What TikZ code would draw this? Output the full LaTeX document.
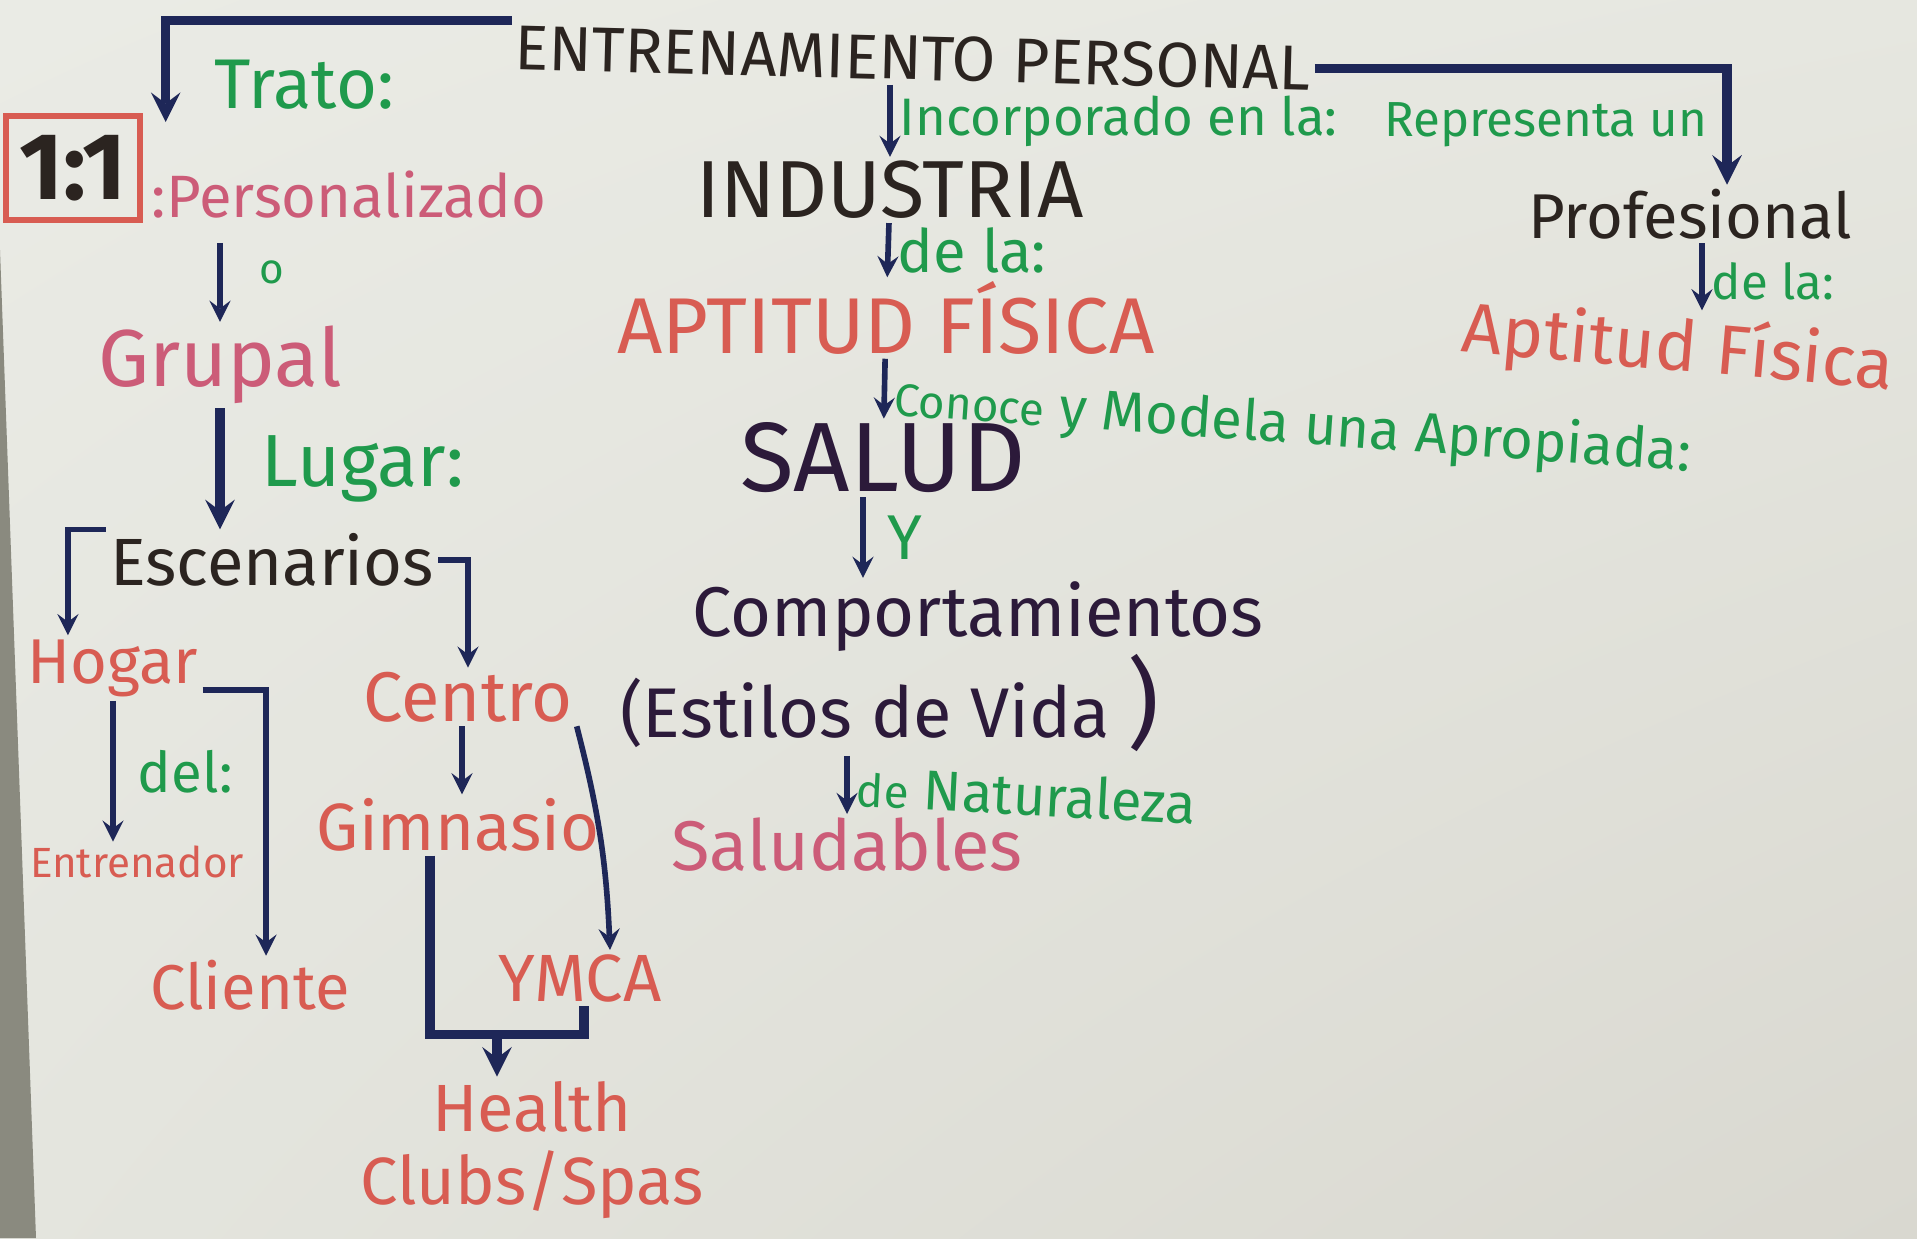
\documentclass[tikz,border=0pt]{standalone}
\usepackage{fontspec}
\setmainfont{Fira Sans}
\usepackage{xcolor}
\usepackage{tikz}
\usetikzlibrary{arrows, positioning, shadings}

\definecolor{boardtl}{HTML}{EAEBE5}
\definecolor{boardtr}{HTML}{E6E7E0}
\definecolor{boardbl}{HTML}{E4E5DE}
\definecolor{boardbr}{HTML}{D9D8D0}
\definecolor{boardedge}{HTML}{8A8A7F}
\definecolor{inkblack}{HTML}{2B2420}
\definecolor{inkred}{HTML}{D85C52}
\definecolor{inkpink}{HTML}{CC5C78}
\definecolor{inkgreen}{HTML}{1F9A4C}
\definecolor{inknavy}{HTML}{1E2758}
\definecolor{inkpurple}{HTML}{2C1A3A}

\newcommand{\pensize}[1]{\fontsize{#1pt}{#1pt}\selectfont}

\begin{document}
\begin{tikzpicture}[x=0.01cm, y=-0.01cm,
            blackink/.style={text=inkblack, inner sep=1pt},
            redink/.style={text=inkred, inner sep=1pt},
            pinkink/.style={text=inkpink, inner sep=1pt},
            purpleink/.style={text=inkpurple, inner sep=1pt},
            greenink/.style={text=inkgreen, inner sep=2pt},
            ratiobox/.style={draw=inkred, line width=1.5pt, minimum width=1.34cm, minimum height=1.04cm, text=inkblack, font=\bfseries\pensize{27}},
            arrow/.style={draw=inknavy, line width=1.6pt, ->, >=stealth},
            bigarrow/.style={arrow, line width=2.6pt},
            bigline/.style={draw=inknavy, line width=2.6pt}]

            % Board
            \shade[upper left=boardtl, upper right=boardtr, lower left=boardbl, lower right=boardbr] (0,0) rectangle (1917,1238);
            \fill[boardedge] (0,250) -- (36,1238) -- (0,1238) -- cycle;
            \useasboundingbox (0,0) rectangle (1917,1238);

            % Nodes
            \node (title) [blackink, font=\pensize{18}, rotate=-1.5] at (913,58) {ENTRENAMIENTO PERSONAL};
            \node (oneone) [ratiobox] at (73,168) {1:1};
            \node (pers) [pinkink, font=\pensize{17}, right=0.05cm of oneone, yshift=-0.27cm] {:Personalizado};
            \node (grupal) [pinkink, font=\pensize{23}] at (220,365) {Grupal};
            \node (escen) [blackink, font=\pensize{19}] at (272,560) {Escenarios};
            \node (hogar) [redink, font=\pensize{18}] at (113,668) {Hogar};
            \node (centro) [redink, font=\pensize{20}] at (468,697) {Centro};
            \node (entren) [redink, font=\pensize{12}] at (137,862) {Entrenador};
            \node (cliente) [redink, font=\pensize{18}] at (250,985) {Cliente};
            \node (gimn) [redink, font=\pensize{19}] at (458,825) {Gimnasio};
            \node (ymca) [redink, font=\pensize{19}] at (580,978) {YMCA};
            \node (health) [redink, font=\fontsize{19pt}{21pt}\selectfont, align=center] at (532,1150) {Health\\Clubs/Spas};
            \node (ind) [blackink, font=\pensize{23}] at (890,190) {INDUSTRIA};
            \node (aptfis) [redink, font=\pensize{22.5}] at (886,318) {APTITUD FÍSICA};
            \node (salud) [purpleink, font=\pensize{28}] at (883,458) {SALUD};
            \node (comport) [purpleink, font=\pensize{20}] at (978,617) {Comportamientos};
            \node (estilos) [purpleink, font=\pensize{20}] at (890,703) {(Estilos de Vida {\pensize{28})}};
            \node (saludables) [pinkink, font=\pensize{20}] at (847,845) {Saludables};
            \node (prof) [blackink, font=\pensize{18}] at (1690,214) {Profesional};
            \node (aptfis2) [redink, font=\pensize{20}, rotate=-5] at (1678,350) {Aptitud Física};
            \coordinate (profdrop) at ([xshift=0.12cm]prof.south);
            \coordinate (saluddrop) at ([xshift=-0.2cm]salud.south);
            \coordinate (join) at ([xshift=-0.35cm, yshift=0.42cm]health.north);

            % Arrows
            \draw [bigarrow] (title.north west) -| node[pos=0.3, below=0.28cm, greenink, font=\pensize{20}] (trato) {Trato:} ([xshift=0.18cm, yshift=0.45cm]pers.north west);
            \draw [bigarrow] (title.east) -| node[pos=0.28, below=0.22cm, greenink, font=\pensize{14}] (repr) {Representa un} ([xshift=0.37cm]prof.north);
            \draw [arrow] (ind.north |- title.south) -- node[right, greenink, font=\pensize{15}] (incorp) {Incorporado en la:} (ind.north);
            \draw [arrow] (ind) -- node[right, greenink, font=\pensize{17}] (dela) {de la:} (aptfis);
            \draw [arrow] (aptfis) -- node[right, yshift=-0.1cm, greenink, font=\pensize{16}, rotate=-4] (conoce) {{\pensize{13}Conoce} y Modela una Apropiada:} (salud);
            \draw [arrow] (saluddrop) -- node[right=0.15cm, greenink, font=\pensize{18}] (ylbl) {Y} (saluddrop |- comport.north);
            \draw [arrow] (saludables.north |- estilos.south) -- node[right, greenink, font=\pensize{16}, rotate=-3] (natur) {{\pensize{13}de} Naturaleza} (saludables.north);
            \draw [arrow] (profdrop) -- node[right, yshift=-0.05cm, greenink, font=\pensize{14}] (dela2) {de la:} (profdrop |- aptfis2.north);
            \draw [arrow, shorten <=0.2cm] (grupal.north |- pers.south) -- node[right=0.3cm, greenink, font=\pensize{12}] (olbl) {o} (grupal.north);
            \draw [bigarrow] (grupal) -- node[right=0.3cm, greenink, font=\pensize{21}] (lugar) {Lugar:} (grupal |- escen.north);
            \draw [arrow] (escen.north west) -| ([xshift=-0.45cm]hogar.north);
            \draw [arrow] (escen.east) -| (centro.north);
            \draw [arrow] ([yshift=-0.22cm]hogar.east) -| ([xshift=0.16cm]cliente.north);
            \draw [arrow] (hogar.south) -- node[right=0.15cm, greenink, font=\pensize{16}] (del) {del:} (hogar.south |- entren.north);
            \draw [arrow] ([xshift=-0.06cm]centro.south) -- ([xshift=-0.06cm]centro.south |- gimn.north);
            \draw [arrow] (centro.south east) to[bend left=6] ([xshift=0.3cm]ymca.north);
            \draw [bigline] ([xshift=-0.28cm]gimn.south) |- (join) -| ([xshift=0.04cm]ymca.south);
            \draw [bigarrow] (join) -- (join |- health.north);
        \end{tikzpicture}
\end{document}
